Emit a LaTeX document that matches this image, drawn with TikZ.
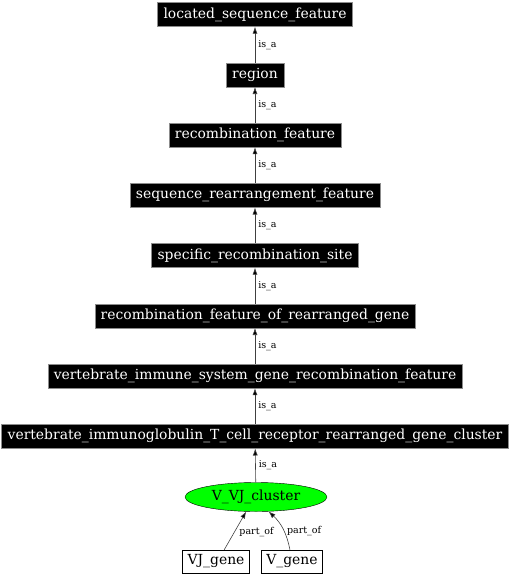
\documentclass[tikz,border=0pt]{standalone}
\usepackage{fontspec}
\setmainfont{DejaVu Serif}
\usetikzlibrary{shapes.geometric,arrows.meta}
\begin{document}
\begin{tikzpicture}[x=1pt,y=-1pt,
  term/.style={fill=black,draw=black!45,text=white,font=\fontsize{13.9}{16}\selectfont,
    inner xsep=6pt,inner ysep=0pt,minimum height=24pt},
  leaf/.style={fill=white,draw=black,font=\fontsize{13.9}{16}\selectfont,
    inner xsep=5pt,inner ysep=0pt,minimum height=23pt},
  clus/.style={ellipse,fill=green,draw=black,font=\fontsize{13.9}{16}\selectfont,
    minimum width=142pt,minimum height=29pt,inner sep=0pt},
  rel/.style={draw=black!75,line width=0.6pt,-{Latex[length=7pt,width=5pt,fill=black]}},
  lab/.style={font=\fontsize{9.5}{11}\selectfont,anchor=west,inner sep=0pt,xshift=3pt}]
\useasboundingbox (0,0) rectangle (510,576);
\node[term] (n1) at (255,14.5) {located\_sequence\_feature};
\node[term] (n2) at (255,74.8) {region};
\node[term] (n3) at (255,135) {recombination\_feature};
\node[term] (n4) at (255,195.3) {sequence\_rearrangement\_feature};
\node[term] (n5) at (255,255.5) {specific\_recombination\_site};
\node[term] (n6) at (255,315.8) {recombination\_feature\_of\_rearranged\_gene};
\node[term] (n7) at (255,376) {vertebrate\_immune\_system\_gene\_recombination\_feature};
\node[term] (n8) at (255,436.3) {vertebrate\_immunoglobulin\_T\_cell\_receptor\_rearranged\_gene\_cluster};
\node[clus] (cl) at (256,497) {V\_VJ\_cluster};
\node[leaf] (vj) at (216,561.5) {VJ\_gene};
\node[leaf] (vg) at (292,561.5) {V\_gene};
\draw[rel] (n2) -- node[lab]{is\_a} (n1);
\draw[rel] (n3) -- node[lab]{is\_a} (n2);
\draw[rel] (n4) -- node[lab]{is\_a} (n3);
\draw[rel] (n5) -- node[lab]{is\_a} (n4);
\draw[rel] (n6) -- node[lab]{is\_a} (n5);
\draw[rel] (n7) -- node[lab]{is\_a} (n6);
\draw[rel] (n8) -- node[lab]{is\_a} (n7);
\draw[rel] (cl) -- node[lab]{is\_a} (n8);
\draw[rel] (vj.55) -- node[lab,xshift=1pt,yshift=-1pt]{part\_of} (cl.236);
\draw[rel] (vg.100) to[bend right=18] node[lab,xshift=1pt,yshift=-2pt]{part\_of} (cl.311);
\end{tikzpicture}
\end{document}
